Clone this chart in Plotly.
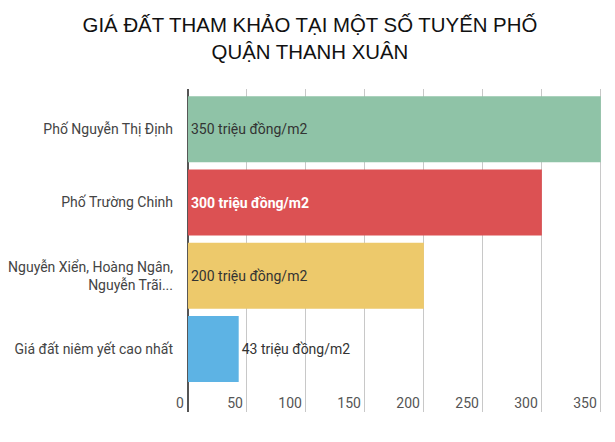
import plotly.graph_objects as go

categories = ["Phố Nguyễn Thị Định", "Phố Trường Chinh",
              "Nguyễn Xiển, Hoàng Ngân,<br>Nguyễn Trãi...", "Giá đất niêm yết cao nhất"]
values = [350, 300, 200, 43]
bar_colors = ["#8fc3a7", "#dc5153", "#edc96b", "#5db3e4"]
label_colors = ["#333333", "#ffffff", "#333333", "#333333"]
text_positions = ["inside", "inside", "inside", "outside"]
tick_vals = [0, 50, 100, 150, 200, 250, 300, 350]

labels = []
for v, c in zip(values, label_colors):
    t = f"{v} triệu đồng/m2"
    if c == "#ffffff":
        t = f"<b>{t}</b>"
    labels.append(t)

fig = go.Figure(go.Bar(
    x=values, y=categories, orientation="h",
    marker=dict(color=bar_colors, line=dict(width=0)),
    text=labels, textposition=text_positions, insidetextanchor="start",
    textfont=dict(family="Roboto", size=14, color=label_colors),
    cliponaxis=False, width=0.9,
))

fig.update_layout(
    width=615, height=442,
    margin=dict(l=167, r=8, t=81, b=38),
    paper_bgcolor="white", plot_bgcolor="white",
    showlegend=False,
    title=dict(text="GIÁ ĐẤT THAM KHẢO TẠI MỘT SỐ TUYẾN PHỐ<br>QUẬN THANH XUÂN",
               x=0.491, xanchor="center", y=0.945, yanchor="top",
               font=dict(family="Liberation Sans, Arial", size=20.4, color="#111111")),
    xaxis=dict(range=[-11, 362], tickvals=tick_vals, showgrid=True, gridcolor="#c8c8c8",
               gridwidth=1, zeroline=True, zerolinecolor="#555555", zerolinewidth=2,
               showline=False, ticks="", ticklabelposition="inside left",
               ticklabelstandoff=-5, ticklabelshift=-4,
               tickfont=dict(family="Roboto", size=14, color="#555555")),
    yaxis=dict(categoryorder="array", categoryarray=categories,
               range=[3.86, -0.55], showgrid=False, zeroline=False, ticks="",
               ticklabelstandoff=1, automargin=False,
               tickfont=dict(family="Roboto", size=14, color="#444444")),
)

fig.write_html("out.html")
